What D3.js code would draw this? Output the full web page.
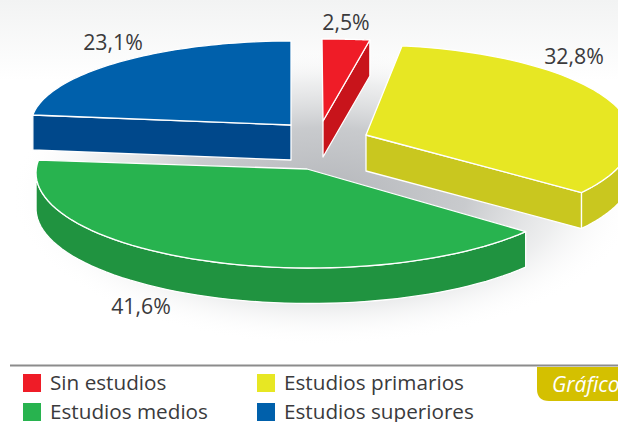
<!DOCTYPE html>
<html><head><meta charset="utf-8">
<script src="https://cdn.jsdelivr.net/npm/d3@7/dist/d3.min.js"></script>
<style>html,body{margin:0;padding:0;background:#fff;overflow:hidden}svg{display:block}text{font-family:"Open Sans",sans-serif}</style>
</head><body><svg id="c" width="618" height="422"></svg>
<script>
const categories = ["Sin estudios","Estudios primarios","Estudios medios","Estudios superiores"];
const values = [2.5,32.8,41.6,23.1];
const topColors = ["#ef1c27","#e7e723","#28b34f","#0060ab"];
const sideColors = ["#c8141b","#c9c71f","#209340","#00488b"];
const apexes = [[323,121],[366,135],[307,169],[291,125]];
const centers = [[322,121],[366,138],[310,173],[291,125]];
const radii = [[306,82],[266,93],[274,95],[260,84]];
const rotations = [0,-1.2,1,0];
const depths = [36,36,35.5,35];
const labelPos = [[346,30],[574,64],[141,314],[113,50]];
const legendPos = [[23,374],[257,374],[23,403],[257,403]];

const svg = d3.select("#c");
const W = 618, H = 422;
const defs = svg.append("defs");
const bg = defs.append("linearGradient").attr("id","bg").attr("x1",0).attr("x2",0).attr("y1",0).attr("y2",1);
bg.append("stop").attr("offset",0).attr("stop-color","#f2f3f3");
bg.append("stop").attr("offset",1).attr("stop-color","#ffffff");
const sh = defs.append("radialGradient").attr("id","sh");
[[0,"#b4b6ba",1],[.45,"#c6c8cb",.95],[.75,"#e6e7e8",.7],[1,"#ffffff",0]].forEach(s=>
  sh.append("stop").attr("offset",s[0]).attr("stop-color",s[1]).attr("stop-opacity",s[2]));
svg.append("rect").attr("width",W).attr("height",H).attr("fill","#fff");
svg.append("rect").attr("width",W).attr("height",80).attr("fill","url(#bg)");
svg.append("ellipse").attr("cx",325).attr("cy",195).attr("rx",315).attr("ry",150).attr("fill","url(#sh)");

const arcs = d3.pie().sort(null).value(d=>d)(values);
const line = d3.line();
const rad = d3.scaleLinear().domain([0,180]).range([0,Math.PI]);
const at = (i,a,dz=0)=>{const t=a+rad(rotations[i]);return [centers[i][0]+radii[i][0]*Math.sin(t), centers[i][1]-radii[i][1]*Math.cos(t)+dz];};
const samples = (a0,a1)=>d3.range(0,61).map(k=>a0+(a1-a0)*k/60);
const g = svg.append("g").attr("stroke","#fff").attr("stroke-width",1.3).attr("stroke-linejoin","round");
[3,0,1,2].forEach(i=>{
  const p = arcs[i], c = apexes[i], depth = depths[i];
  const wall = (a)=> g.append("path").attr("fill",sideColors[i])
    .attr("d",line([c,at(i,a),at(i,a,depth),[c[0],c[1]+depth]])+"Z");
  if(Math.sin(p.startAngle)<-1e-6) wall(p.startAngle);
  if(Math.sin(p.endAngle)>1e-6) wall(p.endAngle);
  const lo = Math.max(p.startAngle,Math.PI/2), hi = Math.min(p.endAngle,3*Math.PI/2);
  if(hi>lo){
    const s = samples(lo,hi);
    g.append("path").attr("fill",sideColors[i])
      .attr("d",line(s.map(a=>at(i,a)).concat(s.slice().reverse().map(a=>at(i,a,depth))))+"Z");
  }
  g.append("path").attr("fill",topColors[i])
    .attr("d",line([c].concat(samples(p.startAngle,p.endAngle).map(a=>at(i,a))))+"Z");
});
const fmt = d3.formatLocale({decimal:",",thousands:".",grouping:[3],currency:["","€"]}).format(".1f");
svg.append("g").selectAll("text").data(values).join("text")
  .attr("x",(d,i)=>labelPos[i][0]).attr("y",(d,i)=>labelPos[i][1])
  .attr("text-anchor","middle").attr("font-size",21.3).attr("fill","#3a3a3c")
  .text(d=>fmt(d)+"%");

svg.append("line").attr("x1",10).attr("x2",W).attr("y1",365.5).attr("y2",365.5).attr("stroke","#8c8c8c").attr("stroke-width",2);
svg.append("path").attr("fill","#d4c000")
  .attr("d","M537 367H618V401H549Q537 401 537 389Z");
svg.append("text").attr("x",552).attr("y",392).attr("font-size",21).attr("font-style","italic").attr("fill","#fff").text("Gráfico");
const leg = svg.append("g").selectAll("g").data(categories).join("g");
leg.append("rect").attr("x",(d,i)=>legendPos[i][0]).attr("y",(d,i)=>legendPos[i][1]).attr("width",18).attr("height",18).attr("fill",(d,i)=>topColors[i]);
leg.append("text").attr("x",(d,i)=>legendPos[i][0]+27).attr("y",(d,i)=>legendPos[i][1]+16).attr("font-size",20.7).attr("fill","#3a3a3c").text(d=>d);
</script></body></html>
